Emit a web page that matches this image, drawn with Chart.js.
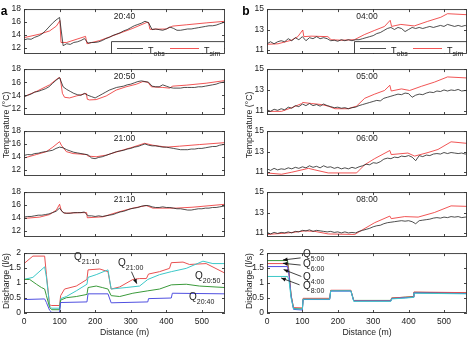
<!DOCTYPE html>
<html>
<head>
<meta charset="utf-8">
<script src="https://cdn.jsdelivr.net/npm/chart.js@4.4.0/dist/chart.umd.min.js"></script>
<style>
  html, body { margin: 0; padding: 0; background: #fff; }
  #wrap { position: relative; width: 469px; height: 340px; overflow: hidden;
          font-family: "Liberation Sans", Arial, sans-serif; color: #222; }
  #wrap canvas { position: absolute; }
  .t { position: absolute; white-space: nowrap; line-height: 1; }
</style>
</head>
<body>
<div id="wrap"></div>
<script>
// distance grid of the observed temperature profiles (m)
const distObs = [0, 10, 20, 30, 40, 50, 60, 70, 80, 90,
  100, 110, 120, 130, 140, 150, 160, 170, 180, 190,
  200, 210, 220, 230, 240, 250, 260, 270, 280, 290,
  300, 310, 320, 330, 340, 350, 360, 370, 380, 390,
  400, 410, 420, 430, 440, 450, 460, 470, 480, 490,
  500, 510, 520, 530, 540, 550, 560, 565];

const xTicks = [0, 100, 200, 300, 400, 500];
const tTicksA = [12, 14, 16, 18];
const tTicksB = [11, 13, 15];
const qTicks = [0, 0.5, 1, 1.5, 2];

const timesA = ["20:40", "20:50", "21:00", "21:10"];
const timesB = ["04:00", "05:00", "06:00", "08:00"];

// panel a, observed temperature (°C)
const obsA1 = [13.2, 13.35, 13.3, 13.6, 13.8, 14.1, 14.6, 15.2, 15.8, 16.3,
  16.7, 12.3, 12.6, 12.5, 12.8, 12.9, 13.1, 13.4, 12.7, 12.8,
  12.8, 12.9, 13.1, 13.4, 13.6, 13.9, 14.1, 14.3, 14.6, 14.8,
  15.1, 15.4, 15.6, 15.8, 16.1, 15.9, 14.8, 14.9, 14.8, 14.7,
  14.9, 15.2, 15.0, 14.7, 14.7, 14.8, 14.9, 14.9, 15.0, 15.1,
  15.2, 15.3, 15.4, 15.4, 15.5, 15.7, 15.9, 15.9];
const obsA2 = [13.8, 14.0, 14.2, 14.5, 14.6, 14.8, 15.0, 15.3, 15.8, 16.3,
  16.7, 15.3, 14.9, 14.6, 14.3, 14.1, 14.0, 14.3, 14.0, 13.8,
  13.6, 13.9, 14.2, 14.5, 14.8, 15.0, 15.2, 15.3, 15.4, 15.6,
  15.7, 15.9, 16.1, 16.2, 16.1, 16.0, 15.4, 15.3, 15.3, 15.6,
  15.4, 15.2, 15.1, 15.1, 15.1, 15.2, 15.2, 15.2, 15.2, 15.3,
  15.3, 15.4, 15.5, 15.6, 15.7, 15.9, 16.0, 16.1];
const obsA3 = [14.2, 14.35, 14.3, 14.5, 14.55, 14.7, 14.8, 14.9, 15.0, 15.3,
  15.5, 15.4, 15.1, 14.9, 14.7, 14.6, 14.5, 14.4, 14.3, 13.8,
  13.7, 13.9, 14.0, 14.2, 14.4, 14.6, 14.8, 14.9, 15.0, 15.2,
  15.3, 15.5, 15.6, 15.8, 16.0, 15.8, 15.7, 15.7, 15.6, 15.5,
  15.5, 15.4, 15.3, 15.2, 15.1, 15.1, 15.1, 15.2, 15.2, 15.3,
  15.3, 15.4, 15.5, 15.6, 15.6, 15.8, 15.9, 15.9];
const obsA4 = [14.1, 14.2, 14.2, 14.3, 14.4, 14.4, 14.5, 14.6, 14.8, 15.0,
  15.5, 14.8, 14.7, 14.7, 14.8, 14.8, 14.8, 14.9, 14.3, 14.3,
  14.2, 14.3, 14.2, 14.3, 14.4, 14.5, 14.7, 14.9, 15.0, 15.2,
  15.4, 15.5, 15.6, 15.8, 15.9, 15.9, 15.7, 15.6, 15.6, 15.7,
  15.6, 15.6, 15.5, 15.4, 15.4, 15.3, 15.2, 15.2, 15.3, 15.4,
  15.4, 15.5, 15.5, 15.6, 15.6, 15.7, 15.8, 15.8];

// panel a, simulated temperature [distance, °C]
const simA1 = [[0, 13.55], [44, 14.1], [72, 14.6], [91, 15.35], [101, 16.2], [104, 12.8], [120, 12.8],
  [173, 13.75], [177, 12.6], [213, 13.1], [250, 13.85], [306, 15.0], [344, 15.9], [350, 15.9],
  [354, 14.85], [400, 14.9], [418, 15.35], [456, 15.55], [512, 15.85], [565, 16.1]];
const simA2 = [[0, 13.8], [35, 14.6], [72, 15.6], [81, 16.0], [98, 16.7], [102, 16.6], [108, 14.3],
  [114, 13.7], [128, 13.6], [147, 13.9], [175, 14.3], [178, 13.4], [184, 13.3], [203, 13.35],
  [231, 13.9], [259, 14.8], [287, 15.3], [316, 15.7], [334, 16.1], [348, 16.0], [358, 15.3],
  [390, 15.2], [409, 15.1], [418, 15.4], [456, 15.55], [512, 15.85], [565, 16.25]];
const simA3 = [[0, 13.8], [35, 14.35], [63, 14.8], [81, 15.5], [100, 16.35], [105, 15.8], [119, 14.8],
  [138, 14.5], [175, 14.35], [180, 14.1], [203, 14.0], [231, 14.25], [269, 14.9], [306, 15.5],
  [339, 16.1], [362, 15.8], [400, 15.5], [437, 15.65], [493, 15.9], [565, 16.2]];
const simA4 = [[0, 13.9], [44, 14.1], [72, 14.5], [91, 15.2], [100, 16.1], [105, 15.1], [114, 14.7],
  [157, 14.8], [176, 14.8], [178, 14.0], [222, 14.15], [259, 14.8], [306, 15.5], [344, 15.9],
  [362, 15.5], [428, 15.5], [475, 15.65], [565, 16.1]];

// panel b, observed temperature (°C)
const obsB1 = [11.6, 11.8, 11.6, 11.8, 11.9, 11.8, 12.1, 11.9, 12.2, 12.0,
  12.3, 11.9, 12.2, 12.1, 12.3, 12.1, 12.2, 12.1, 11.9, 11.95,
  11.85, 12.0, 11.9, 12.0, 11.9, 12.0, 12.0, 12.1, 12.2, 12.3,
  12.4, 12.6, 12.7, 12.9, 13.1, 13.2, 13.0, 13.2, 13.1, 12.8,
  13.0, 13.2, 13.1, 13.2, 13.1, 13.2, 13.3, 13.2, 13.3, 13.4,
  13.3, 13.5, 13.4, 13.3, 13.4, 13.3, 13.4, 13.3];
const obsB2 = [11.1, 10.95, 11.15, 11.05, 11.2, 11.1, 11.35, 11.25, 11.5, 11.4,
  11.65, 11.5, 11.7, 11.5, 11.6, 11.45, 11.65, 11.5, 11.4, 11.3,
  11.35, 11.25, 11.3, 11.2, 11.3, 11.35, 11.5, 11.6, 11.7, 11.8,
  11.9, 12.0, 11.95, 12.2, 12.3, 12.4, 12.5, 12.6, 12.55, 12.7,
  12.65, 12.3, 12.5, 12.6, 12.55, 12.7, 12.8, 12.75, 12.9, 12.85,
  13.0, 12.9, 13.0, 12.95, 13.05, 12.9, 12.95, 12.9];
const obsB3 = [11.3, 11.15, 11.35, 11.2, 11.3, 11.25, 11.4, 11.3, 11.45, 11.35,
  11.5, 11.4, 11.6, 11.45, 11.55, 11.4, 11.6, 11.45, 11.5, 11.35,
  11.45, 11.3, 11.4, 11.3, 11.45, 11.35, 11.5, 11.6, 11.75, 11.7,
  11.9, 11.85, 12.0, 12.25, 12.35, 12.3, 12.45, 12.4, 12.55, 12.5,
  12.6, 12.45, 12.1, 12.6, 12.5, 12.65, 12.6, 12.75, 12.8, 12.75,
  12.9, 12.8, 12.9, 12.85, 12.8, 12.85, 12.75, 12.8];
const obsB4 = [11.05, 10.9, 11.05, 10.95, 11.05, 11.0, 11.1, 11.0, 11.15, 11.1,
  11.25, 11.2, 11.3, 11.15, 11.25, 11.2, 11.15, 11.1, 11.15, 11.05,
  11.1, 11.0, 11.1, 11.0, 11.05, 11.0, 11.15, 11.25, 11.35, 11.45,
  11.6, 11.7, 11.75, 11.9, 12.0, 12.05, 12.1, 12.15, 12.2, 12.15,
  12.2, 12.1, 11.9, 12.2, 12.25, 12.3, 12.35, 12.45, 12.5, 12.45,
  12.55, 12.5, 12.6, 12.55, 12.6, 12.5, 12.55, 12.55];

// panel b, simulated temperature [distance, °C]
const simB1 = [[0, 11.55], [31, 11.6], [69, 11.95], [87, 12.3], [101, 12.95], [104, 12.3], [125, 12.35],
  [172, 12.3], [181, 12.0], [209, 11.95], [247, 12.0], [275, 12.5], [303, 12.9], [332, 13.3],
  [348, 13.9], [352, 13.3], [378, 13.5], [416, 13.35], [454, 13.8], [491, 14.2], [510, 14.55], [565, 14.45]];
const simB2 = [[0, 10.95], [41, 10.95], [70, 11.3], [98, 11.7], [101, 11.8], [126, 11.7], [154, 11.6],
  [173, 11.45], [192, 11.2], [229, 11.2], [253, 11.45], [276, 12.2], [304, 12.6], [332, 12.95],
  [347, 13.45], [351, 12.9], [380, 13.1], [403, 12.95], [436, 13.35], [473, 13.75], [510, 14.25], [565, 14.15]];
const simB3 = [[0, 10.9], [41, 10.77], [70, 10.97], [117, 11.35], [135, 11.2], [173, 10.9], [253, 10.9],
  [276, 11.7], [304, 12.3], [347, 13.1], [351, 12.7], [398, 12.85], [417, 12.55], [455, 12.9],
  [483, 13.2], [520, 13.95], [565, 13.8]];
const simB4 = [[0, 10.85], [60, 11.0], [107, 11.2], [135, 11.15], [173, 10.9], [248, 10.85], [267, 11.25],
  [304, 12.0], [347, 12.65], [351, 12.4], [389, 12.6], [427, 12.55], [473, 13.0], [520, 13.65], [565, 13.6]];

// discharge (l/s) [distance, Q]
const q2110 = [[0, 1.65], [25, 1.9], [58, 1.9], [63, 1.28], [72, 0.27], [78, 0.25], [100, 0.25], [103, 0.58],
  [114, 0.8], [147, 0.9], [177, 1.12], [180, 1.44], [213, 1.47], [236, 1.38], [245, 0.8], [269, 0.87],
  [306, 1.12], [325, 1.15], [344, 1.15], [350, 1.3], [381, 1.38], [409, 1.49], [414, 1.68], [447, 1.7],
  [465, 1.62], [512, 1.65], [565, 1.33]];
const q2100 = [[0, 1.12], [25, 1.19], [58, 1.54], [63, 1.2], [72, 0.23], [78, 0.16], [100, 0.16], [103, 0.48],
  [119, 0.55], [147, 0.74], [177, 0.96], [180, 1.19], [203, 1.28], [236, 1.44], [245, 0.8], [287, 0.85],
  [325, 0.9], [348, 1.12], [381, 1.28], [414, 1.38], [456, 1.49], [503, 1.73], [531, 1.65], [565, 1.65]];
const q2050 = [[0, 1.12], [16, 1.12], [35, 0.96], [49, 0.85], [58, 0.8], [63, 0.58], [72, 0.19], [78, 0.11],
  [100, 0.11], [103, 0.43], [119, 0.51], [147, 0.55], [177, 0.62], [180, 0.85], [203, 0.9], [220, 0.85],
  [236, 0.8], [245, 0.58], [269, 0.55], [306, 0.66], [348, 0.74], [381, 0.8], [414, 0.94], [456, 0.96],
  [493, 0.9], [565, 0.85]];
const q2040 = [[0, 0.45], [58, 0.47], [63, 0.35], [72, 0.09], [78, 0.02], [100, 0.02], [103, 0.35], [177, 0.37],
  [180, 0.64], [236, 0.64], [245, 0.34], [348, 0.37], [350, 0.48], [414, 0.5], [417, 0.66], [565, 0.64]];

const q0500 = [[0, 1.75], [58, 1.75], [62, 1.4], [68, 0.6], [75, 0.15], [100, 0.14], [102, 0.47], [177, 0.47],
  [180, 0.75], [237, 0.75], [245, 0.42], [350, 0.42], [352, 0.5], [392, 0.53], [413, 0.55], [415, 0.69], [565, 0.67]];
const q0600 = [[0, 1.65], [58, 1.65], [62, 1.35], [68, 0.6], [75, 0.18], [100, 0.17], [102, 0.49], [177, 0.49],
  [180, 0.76], [237, 0.76], [245, 0.41], [350, 0.41], [352, 0.5], [392, 0.53], [413, 0.54], [415, 0.7], [565, 0.68]];
const q0400 = [[0, 1.55], [58, 1.55], [62, 1.3], [68, 0.55], [75, 0.12], [100, 0.1], [102, 0.45], [177, 0.45],
  [180, 0.73], [237, 0.73], [245, 0.4], [350, 0.4], [352, 0.48], [392, 0.51], [413, 0.53], [415, 0.67], [565, 0.65]];
const q0800 = [[0, 1.22], [58, 1.22], [62, 1.1], [68, 0.5], [75, 0.14], [100, 0.13], [102, 0.46], [177, 0.46],
  [180, 0.74], [237, 0.74], [245, 0.39], [350, 0.39], [352, 0.47], [392, 0.5], [413, 0.52], [415, 0.66], [565, 0.64]];

const OBS = "#222222", SIM = "#ee2a2a";
const RED = "#e85050", CYAN = "#3cc8c8", GREEN = "#3a9a3a", BLUE = "#5050e0";
const FONT = '"Liberation Sans", Arial, sans-serif';

const wrap = document.getElementById("wrap");

const colA = { left: 24, right: 225 };
const colB = { left: 267, right: 467 };
const rows = [{ top: 7, bottom: 60 }, { top: 67, bottom: 121 }, { top: 129, bottom: 182 }, { top: 190, bottom: 243 }];
const qRow = { top: 251, bottom: 313 };

const pts = (xs, ys) => xs.map((x, i) => ({ x: x, y: ys[i] }));
const pairs = arr => arr.map(p => ({ x: p[0], y: p[1] }));
const ds = (data, color, w) => ({ data: data, borderColor: color, borderWidth: w || 0.8, pointRadius: 0, tension: 0, fill: false });

// box with inward tick marks (matlab style)
const boxPlugin = {
  id: "box",
  afterDatasetsDraw(chart) {
    const { ctx, chartArea: a, scales } = chart;
    ctx.save();
    ctx.strokeStyle = "#333";
    ctx.lineWidth = 0.9;
    ctx.strokeRect(a.left + 0.5, a.top + 0.5, a.right - a.left - 1, a.bottom - a.top - 1);
    ctx.beginPath();
    xTicks.forEach(v => {
      const x = Math.round(scales.x.getPixelForValue(v)) + 0.5;
      ctx.moveTo(x, a.top); ctx.lineTo(x, a.top + 3);
      ctx.moveTo(x, a.bottom); ctx.lineTo(x, a.bottom - 3);
    });
    scales.y.ticks.forEach(t => {
      const y = Math.round(scales.y.getPixelForValue(t.value)) + 0.5;
      ctx.moveTo(a.left, y); ctx.lineTo(a.left + 3, y);
      ctx.moveTo(a.right, y); ctx.lineTo(a.right - 3, y);
    });
    ctx.stroke();
    ctx.restore();
  }
};

// legend box of the first row
const legendPlugin = {
  id: "leg",
  afterDatasetsDraw(chart) {
    const { ctx, chartArea: a } = chart;
    const L = a.left + 87, T = a.top + 32;
    ctx.save();
    ctx.fillStyle = "#fff";
    ctx.fillRect(L, T, a.right - L - 1, a.bottom - T - 1);
    ctx.strokeStyle = "#333";
    ctx.lineWidth = 0.9;
    ctx.beginPath();
    ctx.moveTo(L + 0.5, a.bottom); ctx.lineTo(L + 0.5, T + 0.5); ctx.lineTo(a.right, T + 0.5);
    ctx.stroke();
    const yc = Math.round((T + a.bottom) / 2) + 0.5;
    ctx.lineWidth = 0.8;
    ctx.strokeStyle = OBS;
    ctx.beginPath(); ctx.moveTo(L + 6, yc); ctx.lineTo(L + 32, yc); ctx.stroke();
    ctx.strokeStyle = SIM;
    ctx.beginPath(); ctx.moveTo(L + 59, yc); ctx.lineTo(L + 88, yc); ctx.stroke();
    ctx.restore();
  }
};

// arrows given in data units
function arrowPlugin(list) {
  return {
    id: "arrows",
    afterDatasetsDraw(chart) {
      const { ctx, scales } = chart;
      ctx.save();
      ctx.strokeStyle = "#111";
      ctx.fillStyle = "#111";
      ctx.lineWidth = 0.8;
      list.forEach(ar => {
        const x0 = scales.x.getPixelForValue(ar.from[0]), y0 = scales.y.getPixelForValue(ar.from[1]);
        const x1 = scales.x.getPixelForValue(ar.to[0]), y1 = scales.y.getPixelForValue(ar.to[1]);
        const ang = Math.atan2(y1 - y0, x1 - x0);
        ctx.beginPath(); ctx.moveTo(x0, y0); ctx.lineTo(x1, y1); ctx.stroke();
        ctx.beginPath();
        ctx.moveTo(x1, y1);
        ctx.lineTo(x1 - 5 * Math.cos(ang - 0.4), y1 - 5 * Math.sin(ang - 0.4));
        ctx.lineTo(x1 - 5 * Math.cos(ang + 0.4), y1 - 5 * Math.sin(ang + 0.4));
        ctx.closePath(); ctx.fill();
      });
      ctx.restore();
    }
  };
}

function makePanel(col, row, yMin, yMax, yTicks, datasets, isQ, extra) {
  const padL = 24, padT = 6, padR = 4, padB = isQ ? 18 : 6;
  const w = col.right - col.left + padL + padR;
  const h = row.bottom - row.top + padT + padB;
  const cv = document.createElement("canvas");
  cv.width = w; cv.height = h;
  cv.style.left = (col.left - padL) + "px";
  cv.style.top = (row.top - padT) + "px";
  cv.style.width = w + "px"; cv.style.height = h + "px";
  wrap.appendChild(cv);
  return new Chart(cv, {
    type: "line",
    data: { datasets: datasets },
    options: {
      responsive: false,
      animation: false,
      devicePixelRatio: 1,
      layout: { padding: { left: 0, top: padT, right: padR, bottom: isQ ? 0 : padB } },
      plugins: { legend: { display: false }, tooltip: { enabled: false } },
      scales: {
        x: {
          type: "linear", min: 0, max: 565, display: isQ,
          grid: { display: false, drawTicks: false }, border: { display: false },
          ticks: { font: { family: FONT, size: 8.5 }, color: "#222", padding: 4, autoSkip: false, maxRotation: 0,
                   callback: v => String(v) },
          afterBuildTicks: s => { s.ticks = xTicks.map(v => ({ value: v })); },
          afterFit: s => { s.height = padB; }
        },
        y: {
          type: "linear", min: yMin, max: yMax,
          grid: { display: false, drawTicks: false }, border: { display: false },
          ticks: { font: { family: FONT, size: 8.5 }, color: "#222", padding: 3, callback: v => String(v) },
          afterBuildTicks: s => { s.ticks = yTicks.map(v => ({ value: v })); },
          afterFit: s => { s.width = padL; }
        }
      }
    },
    plugins: [boxPlugin].concat(extra || [])
  });
}

const obsA = [obsA1, obsA2, obsA3, obsA4], simA = [simA1, simA2, simA3, simA4];
const obsB = [obsB1, obsB2, obsB3, obsB4], simB = [simB1, simB2, simB3, simB4];

rows.forEach((row, i) => {
  makePanel(colA, row, 11, 18, tTicksA,
    [ds(pts(distObs, obsA[i]), OBS), ds(pairs(simA[i]), SIM)], false, i === 0 ? [legendPlugin] : []);
  makePanel(colB, row, 10.6, 15, tTicksB,
    [ds(pts(distObs, obsB[i]), OBS), ds(pairs(simB[i]), SIM)], false, i === 0 ? [legendPlugin] : []);
});

makePanel(colA, qRow, 0, 2, qTicks,
  [ds(pairs(q2040), BLUE, 1), ds(pairs(q2050), GREEN, 1), ds(pairs(q2100), CYAN, 1), ds(pairs(q2110), RED, 1)],
  true, [arrowPlugin([{ from: [302, 1.38], to: [317, 0.98] }])]);
makePanel(colB, qRow, 0, 2, qTicks,
  [ds(pairs(q0800), CYAN, 1), ds(pairs(q0400), BLUE, 1), ds(pairs(q0600), RED, 1), ds(pairs(q0500), GREEN, 1)],
  true, [arrowPlugin([
    { from: [95, 1.84], to: [45, 1.77] },
    { from: [95, 1.6], to: [45, 1.66] },
    { from: [97, 1.22], to: [47, 1.45] },
    { from: [92, 0.94], to: [40, 1.17] }
  ])]);

// text
function txt(html, x, y, css) {
  const d = document.createElement("div");
  d.className = "t";
  d.innerHTML = html;
  d.style.left = x + "px";
  d.style.top = y + "px";
  d.style.cssText += css || "";
  wrap.appendChild(d);
  return d;
}
const center = "transform:translate(-50%,-50%);";
const vert = "transform:translate(-50%,-50%) rotate(-90deg);";
const sub = (s, size, dy) => '<span style="font-size:' + size + 'px;position:relative;top:' + dy + 'px">' + s + "</span>";

txt("a", 4, 10.5, center + "font-size:12px;font-weight:bold;color:#000;");
txt("b", 246, 10.5, center + "font-size:12px;font-weight:bold;color:#000;");

rows.forEach((row, i) => {
  txt(timesA[i], (colA.left + colA.right) / 2, row.top + 8.5, center + "font-size:8.5px;");
  txt(timesB[i], (colB.left + colB.right) / 2, row.top + 8.5, center + "font-size:8.5px;");
});

txt("Temperature (°C)", 6, 125, vert + "font-size:8.7px;");
txt("Temperature (°C)", 249, 125, vert + "font-size:8.7px;");
txt("Discharge (l/s)", 6, 281, vert + "font-size:8.7px;");
txt("Discharge (l/s)", 249, 281, vert + "font-size:8.7px;");
txt("Distance (m)", 124.5, 331.5, center + "font-size:8.7px;");
txt("Distance (m)", 367, 331.5, center + "font-size:8.7px;");

// legend labels
[colA, colB].forEach(c => {
  const L = c.left + 87;
  txt("T" + sub("obs", 7, 3), L + 37, 49.5, "transform:translateY(-50%);font-size:9px;");
  txt("T" + sub("sim", 7, 3), L + 93, 49.5, "transform:translateY(-50%);font-size:9px;");
});

// discharge labels
const qLabA = [["21:10", 74, 256.5], ["21:00", 118, 263], ["20:50", 195, 276], ["20:40", 189, 297]];
const qLabB = [["5:00", 303, 254], ["6:00", 303, 264], ["4:00", 303, 276.5], ["8:00", 303, 286]];
qLabA.concat(qLabB).forEach(q => {
  txt("Q" + sub(q[0], 7, 4), q[1], q[2], "transform:translateY(-50%);font-size:10px;");
});
</script>
</body>
</html>
